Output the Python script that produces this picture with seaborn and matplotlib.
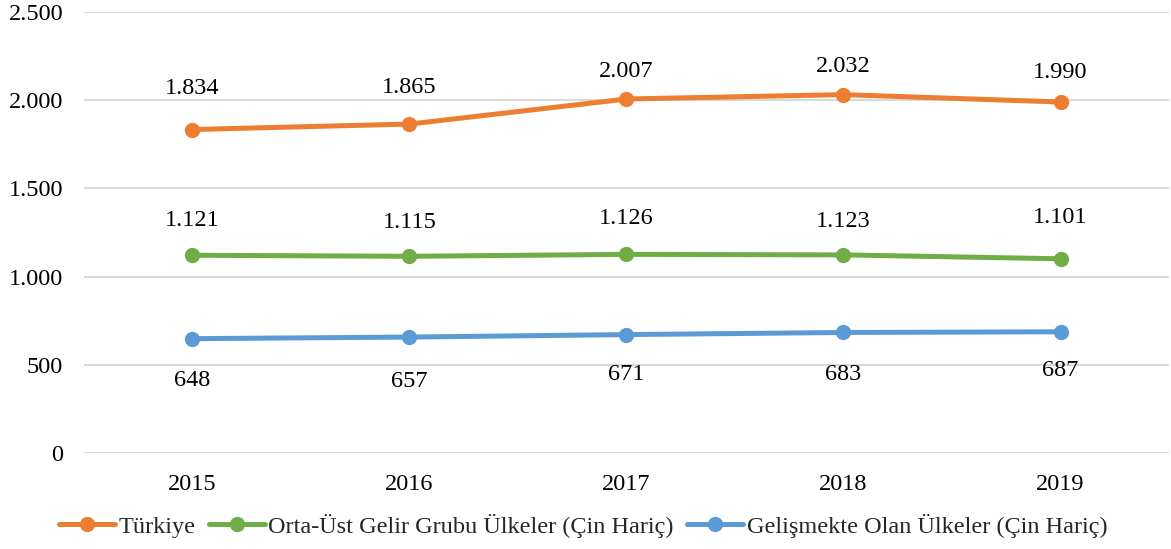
import matplotlib
matplotlib.use("Agg")
import matplotlib.pyplot as plt
import seaborn as sns
import pandas as pd
from matplotlib.ticker import FuncFormatter

years = ["2015", "2016", "2017", "2018", "2019"]
turkiye = [1834, 1865, 2007, 2032, 1990]
orta_ust = [1121, 1115, 1126, 1123, 1101]
gelismekte = [648, 657, 671, 683, 687]
series_names = ["Türkiye", "Orta-Üst Gelir Grubu Ülkeler (Çin Hariç)",
                "Gelişmekte Olan Ülkeler (Çin Hariç)"]
colors = ["#ED7D31", "#70AD47", "#5B9BD5"]

df = pd.DataFrame({
    "Yıl": years * 3,
    "Değer": turkiye + orta_ust + gelismekte,
    "Seri": [series_names[0]] * 5 + [series_names[1]] * 5 + [series_names[2]] * 5,
})

sns.set_theme(style="white")
plt.rcParams["font.family"] = ["Liberation Serif", "DejaVu Serif"]

fig = plt.figure(figsize=(11.71, 5.49), dpi=100)
ax = fig.add_axes([0.0717, 0.175, 0.9266, 0.803])

sns.lineplot(data=df, x="Yıl", y="Değer", hue="Seri", palette=colors,
             marker="o", markersize=11, markeredgewidth=0, linewidth=3.6,
             ax=ax, legend=True)

def fmt(v):
    return f"{v:,.0f}".replace(",", ".")

fs = 17.5
# label offsets in points (style only)
label_offsets = [
    (turkiye, [29.5, 26, 19.5, 20, 21]),
    (orta_ust, [25, 24.5, 26, 24, 30]),
    (gelismekte, [-30, -32, -29, -30, -28]),
]
for vals, offs in label_offsets:
    for i, (v, off) in enumerate(zip(vals, offs)):
        ax.annotate(fmt(v), (i, v), xytext=(0, off), textcoords="offset points",
                    ha="center", va="center", fontsize=fs, color="#000000")

ax.set_ylim(0, 2500)
ax.set_yticks([0, 500, 1000, 1500, 2000, 2500])
ax.yaxis.set_major_formatter(FuncFormatter(lambda v, p: fmt(v)))
ax.set_xlim(-0.5, 4.5)
ax.grid(axis="y", color="#D9D9D9", linewidth=1.5)
ax.set_axisbelow(True)
for s in ax.spines.values():
    s.set_visible(False)
ax.tick_params(axis="both", length=0, labelsize=fs, colors="#000000")
ax.tick_params(axis="x", pad=15)
ax.tick_params(axis="y", pad=15)
ax.set_xlabel("")
ax.set_ylabel("")

handles, labels = ax.get_legend_handles_labels()
ax.legend(handles, labels, loc="center", bbox_to_anchor=(0.46, -0.165),
          ncol=3, frameon=False, fontsize=fs, handlelength=2.3,
          handletextpad=0.15, columnspacing=0.55, borderaxespad=0)

fig.savefig("out.png", dpi=100)
